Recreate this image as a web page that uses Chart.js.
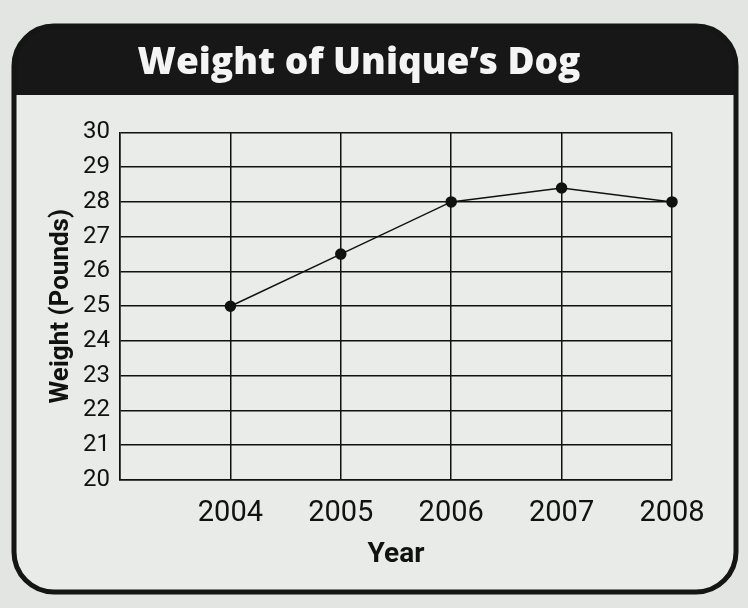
<!DOCTYPE html>
<html>
<head>
<meta charset="utf-8">
<script src="https://cdn.jsdelivr.net/npm/chart.js@4"></script>
<style>
html,body{margin:0;padding:0;background:#e2e5e1;}
#wrap{width:748px;height:608px;position:relative;}
</style>
</head>
<body>
<div id="wrap"><canvas id="c" width="748" height="608"></canvas></div>
<script>
const years = [2004, 2005, 2006, 2007, 2008];
const weights = [25, 26.5, 28, 28.4, 28];
const yTicks = [20, 21, 22, 23, 24, 25, 26, 27, 28, 29, 30];
const titleText = "Weight of Unique\u2019s Dog";
const xTitle = "Year";
const yTitle = "Weight (Pounds)";

const axisFont = 'Roboto, "Liberation Sans", sans-serif';

const framePlugin = {
  id: 'frame',
  beforeDraw(chart) {
    const ctx = chart.ctx;
    ctx.save();
    ctx.fillStyle = '#e2e5e1';
    ctx.fillRect(0, 0, chart.width, chart.height);
    const x0 = 14, y0 = 26, x1 = 736, y1 = 592, r = 40;
    ctx.beginPath();
    ctx.roundRect(x0, y0, x1 - x0, y1 - y0, r);
    ctx.fillStyle = '#e8ebe7';
    ctx.fill();
    ctx.save();
    ctx.clip();
    ctx.fillStyle = '#171717';
    ctx.fillRect(x0, y0, x1 - x0, 69);
    ctx.restore();
    ctx.lineWidth = 5;
    ctx.strokeStyle = '#151515';
    ctx.beginPath();
    ctx.roundRect(x0, y0, x1 - x0, y1 - y0, r);
    ctx.stroke();
    const a = chart.chartArea;
    ctx.fillStyle = '#e9ece8';
    ctx.fillRect(a.left, a.top, a.right - a.left, a.bottom - a.top);
    ctx.restore();
  }
};

new Chart(document.getElementById('c'), {
  type: 'line',
  data: {
    datasets: [{
      data: years.map((y, i) => ({ x: y, y: weights[i] })),
      borderColor: '#111',
      backgroundColor: '#111',
      borderWidth: 1.5,
      pointRadius: 5,
      pointHoverRadius: 5,
      tension: 0,
      clip: false
    }]
  },
  options: {
    responsive: false,
    animation: false,
    layout: { padding: { left: 46, right: 76, top: 0, bottom: 30 } },
    plugins: {
      legend: { display: false },
      tooltip: { enabled: false },
      title: {
        display: true,
        text: titleText,
        color: '#f4f4f4',
        font: { family: '"Open Sans", "Noto Sans", sans-serif', size: 37, weight: '800' },
        padding: { top: 41, bottom: 47 }
      }
    },
    scales: {
      x: {
        type: 'linear',
        min: 2003,
        max: 2008,
        afterFit(s) { s.height = 98; },
        grid: { color: '#111', lineWidth: 1.5, drawTicks: false },
        border: { color: '#111', width: 1.5 },
        ticks: {
          stepSize: 1,
          padding: 16,
          color: '#111',
          font: { family: axisFont, size: 29 },
          callback: v => (v === 2003 ? '' : String(v))
        },
        title: {
          display: true,
          text: xTitle,
          color: '#111',
          font: { family: axisFont, size: 28, weight: 'bold' },
          padding: { top: 0, bottom: 6 }
        }
      },
      y: {
        min: 20,
        max: 30,
        afterFit(s) { s.width = 74; },
        afterBuildTicks(s) { s.ticks = yTicks.map(v => ({ value: v })); },
        grid: { color: '#111', lineWidth: 1.5, drawTicks: false },
        border: { color: '#111', width: 1.5 },
        ticks: {
          stepSize: 1,
          padding: 10,
          color: '#111',
          font: { family: axisFont, size: 24 }
        },
        title: {
          display: true,
          text: yTitle,
          color: '#111',
          font: { family: axisFont, size: 26, weight: 'bold' },
          padding: 0
        }
      }
    }
  },
  plugins: [framePlugin]
});
</script>
</body>
</html>
